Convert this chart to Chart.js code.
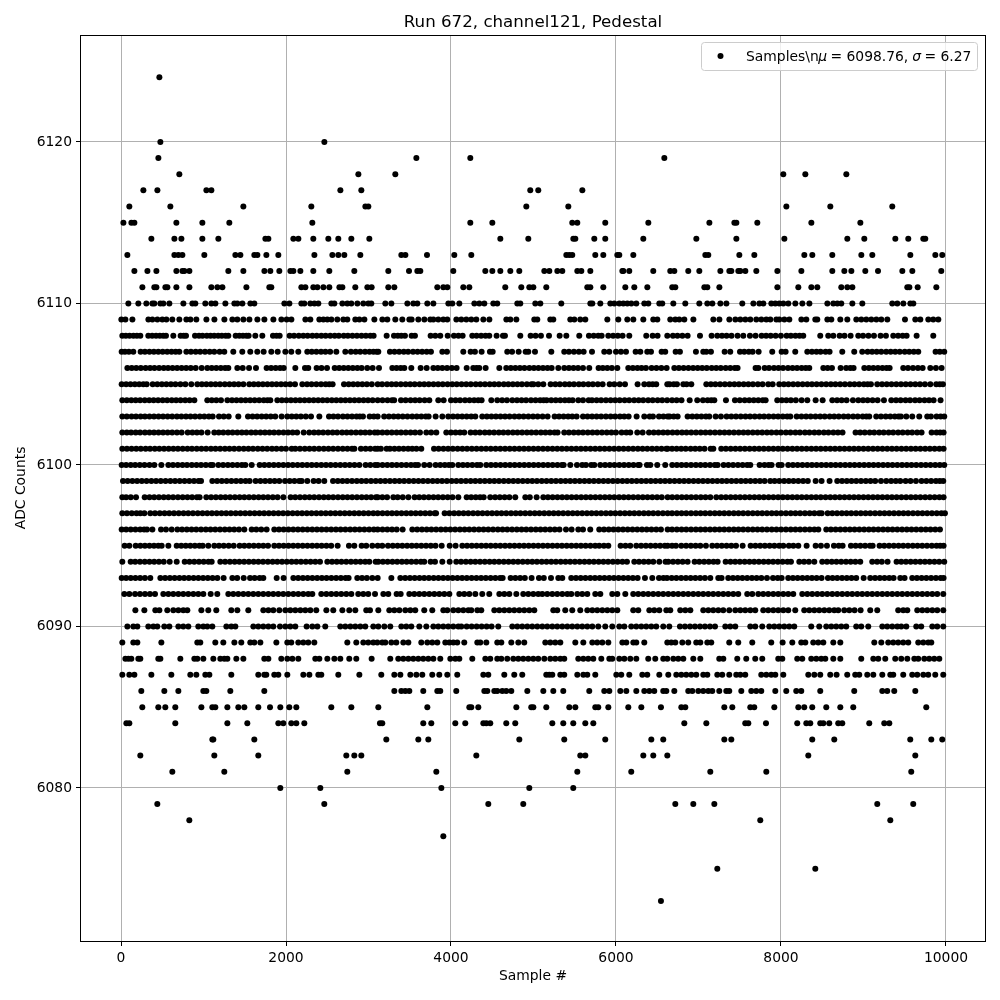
<!DOCTYPE html>
<html>
<head>
<meta charset="utf-8">
<script src="https://cdn.jsdelivr.net/npm/chart.js@4"></script>
<style>
  html, body { margin: 0; padding: 0; background: #fff; }
  canvas { display: block; }
</style>
</head>
<body>
<canvas id="pedestal" width="1000" height="1000"></canvas>
<script>
// sample numbers, one list per ADC count
const row6124 = [465];
const row6120 = [477,2465];
const row6119 = [453,3580,4234,6586];
const row6118 = [707,2877,3325,8028,8295,8792];
const row6117 = [271,441,1035,1095,2659,2913,4961,5058,5592];
const row6116 = [101,598,1483,2307,2962,2998,4913,5422,8065,8598,9349];
const row6115 = [29,126,162,671,986,1313,2319,4234,4501,5470,5531,5870,6392,7132,7435,7459,7713,8368,8962];
const row6114 = [368,647,732,986,1180,1750,1786,2089,2150,2331,2513,2634,2792,3010,4598,4937,5483,5507,5737,5870,6331,6974,7459,8041,8804,9010,9386,9543,9725,9749];
const row6113 = [77,647,695,744,1010,1386,1447,1616,1653,1762,1907,2344,2562,2634,2707,2901,3398,3447,3709,4040,4246,5398,5434,5470,5749,5846,6016,6040,6210,7083,7119,7495,7677,8283,8380,8622,8974,9107,9568,9871,9955];
const row6112 = [162,320,429,671,744,768,829,1301,1483,1738,1810,1919,2053,2089,2174,2331,2525,2828,3240,3491,3592,3628,4028,4416,4501,4598,4719,4828,5131,5192,5289,5349,5531,5580,5689,6077,6089,6161,6452,6658,6707,6876,7010,7265,7374,7398,7483,7507,7568,7701,7956,8247,8622,8768,8853,9022,9176,9471,9592,9943];
const row6111 = [259,404,429,538,562,671,829,1095,1168,1229,1520,1798,1822,2186,2235,2331,2380,2453,2525,2647,2683,2840,2986,3038,3240,3313,3834,3907,3955,4149,4222,4658,4852,4949,4998,5155,5652,5689,5846,6113,6222,6380,6682,6719,7071,7107,7253,7956,8210,8368,8440,8731,8804,8865,9531,9556,9657,9883];
const row6110 = [89,210,307,380,404,477,513,586,756,865,901,1022,1095,1144,1265,1374,1410,1471,1568,1616,1980,2041,2186,2222,2295,2344,2392,2550,2586,2683,2743,2792,2865,2937,2998,3034,3204,3277,3471,3543,3592,3713,3786,3968,4016,4101,4283,4343,4404,4513,4561,4804,4840,5022,5083,5337,5689,5713,5810,5931,5980,6040,6089,6137,6186,6246,6343,6392,6525,6561,6695,6840,7010,7107,7168,7265,7338,7531,7665,7738,7786,7883,7931,7980,8028,8089,8174,8259,8344,8562,8634,8683,8731,8865,8986,9349,9410,9483,9568,9604];
const row6109 = [4,53,138,332,380,441,501,550,622,707,792,841,913,1035,1132,1253,1350,1410,1483,1556,1653,1738,1847,1944,2008,2065,2235,2295,2404,2453,2501,2550,2622,2695,2743,2840,2889,2950,3071,3168,3228,3325,3410,3495,3523,3604,3677,3749,3786,3846,3907,3955,4065,4125,4186,4246,4307,4392,4465,4671,4719,4792,5010,5046,5204,5240,5446,5495,5567,5628,5895,6028,6137,6210,6331,6452,6501,6658,6719,6767,6828,6938,7180,7253,7374,7447,7507,7568,7628,7701,7762,7822,7871,7944,7980,8041,8101,8247,8307,8416,8440,8562,8610,8719,8804,8913,8974,9034,9095,9156,9216,9289,9503,9628,9689,9786,9846,9907];
const row6108 = [16,58,104,151,192,234,331,378,425,470,512,545,634,723,760,788,897,945,988,1040,1085,1130,1178,1222,1268,1301,1390,1435,1478,1520,1547,1628,1713,1842,1885,1923,2044,2098,2155,2210,2262,2320,2372,2428,2480,2536,2590,2640,2700,2750,2805,2860,2915,2968,3022,3062,3220,3309,3355,3398,3442,3523,3563,3753,3810,3870,3960,4036,4090,4141,4258,4310,4365,4418,4464,4553,4630,4654,4840,4965,5025,5090,5188,5317,5398,5555,5672,5730,5785,5826,5907,5965,6022,6080,6161,6367,6444,6504,6622,6690,6745,6805,6868,7018,7159,7228,7285,7340,7400,7474,7543,7624,7692,7765,7820,7875,7935,7999,8068,8120,8175,8225,8270,8476,8573,8634,8711,8770,8844,8937,8995,9060,9127,9207,9272,9361,9420,9475,9523,9644,9846];
const row6107 = [8,48,95,149,238,290,345,398,452,505,560,612,662,707,792,848,905,960,1018,1075,1130,1195,1252,1361,1470,1567,1652,1729,1822,1899,1992,2064,2149,2258,2312,2368,2425,2478,2535,2610,2719,2787,2845,2900,2958,3012,3060,3099,3119,3260,3315,3372,3428,3480,3540,3595,3650,3705,3757,3895,3951,4149,4238,4290,4371,4472,4505,4682,4740,4820,4905,4937,5018,5216,5373,5430,5490,5550,5608,5709,5858,5919,6000,6060,6121,6238,6295,6379,6424,6553,6597,6723,6775,6969,7058,7095,7151,7317,7385,7503,7555,7610,7656,7729,7894,8008,8056,8173,8319,8375,8430,8480,8540,8589,8743,8888,8985,9050,9105,9160,9215,9275,9330,9385,9440,9500,9555,9610,9664,9874,9925,9979];
const row6106 = [77,130,185,240,298,352,405,462,518,570,625,680,735,790,845,905,978,1046,1100,1155,1210,1262,1301,1410,1475,1552,1636,1765,1820,1875,1928,1972,2113,2230,2270,2371,2430,2497,2590,2645,2700,2755,2810,2865,2917,2985,3050,3127,3289,3340,3390,3434,3519,3632,3705,3786,3840,3895,3952,4010,4068,4190,4270,4310,4343,4420,4586,4670,4725,4780,4835,4890,4950,5005,5060,5115,5170,5220,5301,5373,5430,5485,5540,5600,5676,5789,5840,5895,5950,6016,6149,6205,6260,6310,6363,6432,6490,6550,6614,6707,6762,6820,6878,6935,6990,7045,7100,7160,7215,7270,7330,7385,7440,7474,7692,7725,7802,7855,7915,7970,8025,8085,8140,8195,8250,8300,8343,8513,8565,8618,8723,8790,8840,8880,9010,9065,9120,9175,9230,9280,9317,9482,9540,9600,9660,9717,9810,9878,9947];
const row6105 = [8,62,115,168,220,270,311,384,440,495,550,605,660,720,780,852,925,980,1035,1090,1145,1200,1258,1315,1370,1425,1483,1555,1610,1665,1720,1775,1830,1885,1940,1995,2050,2109,2198,2255,2310,2368,2425,2480,2525,2565,2703,2760,2815,2870,2925,2980,3040,3111,3165,3225,3280,3335,3392,3450,3505,3560,3620,3675,3730,3788,3845,3900,3958,4015,4070,4128,4185,4240,4300,4355,4412,4470,4525,4580,4640,4695,4750,4805,4860,4920,4975,5000,5058,5119,5208,5265,5320,5380,5435,5490,5550,5605,5665,5720,5780,5838,5923,5980,6045,6109,6262,6343,6400,6445,6488,6622,6650,6700,6739,6816,6856,6913,7095,7150,7205,7262,7320,7378,7435,7490,7548,7605,7660,7720,7777,7846,7899,7979,8035,8090,8148,8205,8262,8320,8375,8432,8490,8548,8605,8660,8718,8775,8835,8890,8948,9005,9050,9090,9167,9225,9282,9340,9398,9455,9512,9570,9628,9685,9745,9810,9882,9925,9963];
const row6104 = [16,70,125,178,232,288,342,395,450,505,560,615,668,722,778,832,889,1046,1100,1155,1212,1289,1345,1400,1455,1510,1565,1620,1675,1730,1775,1810,1895,1950,2005,2060,2115,2170,2225,2280,2335,2390,2445,2500,2555,2610,2665,2720,2775,2830,2885,2940,2995,3050,3111,3170,3230,3285,3311,3394,3450,3510,3565,3620,3680,3737,3846,3911,4000,4055,4110,4170,4225,4280,4330,4371,4489,4561,4620,4678,4743,4800,4855,4910,4970,5025,5080,5123,5159,5215,5270,5325,5380,5430,5474,5543,5600,5668,5709,5765,5820,5878,5935,5990,6045,6105,6160,6220,6275,6330,6390,6445,6505,6560,6620,6680,6735,6794,6893,6985,7054,7110,7155,7192,7333,7442,7500,7560,7615,7670,7725,7780,7814,7955,8010,8065,8120,8180,8250,8319,8420,8505,8622,8680,8735,8795,8872,8937,8995,9050,9110,9171,9248,9337,9395,9450,9510,9565,9625,9680,9740,9795,9850,9934];
const row6103 = [16,70,128,182,238,290,345,400,455,510,565,620,678,732,788,842,898,955,1010,1065,1111,1188,1245,1305,1422,1539,1595,1650,1705,1760,1815,1870,1947,2016,2070,2125,2180,2240,2303,2404,2521,2575,2630,2690,2745,2800,2855,2895,2933,3014,3065,3111,3190,3248,3305,3360,3415,3472,3530,3585,3640,3695,3729,3814,3895,3967,4025,4080,4135,4190,4245,4295,4379,4435,4490,4545,4600,4655,4710,4770,4825,4880,4938,4995,5050,5110,5171,5256,5310,5365,5420,5470,5523,5600,5655,5710,5765,5820,5878,5935,5990,6048,6100,6153,6250,6343,6408,6448,6521,6575,6626,6650,6700,6747,6868,6925,6980,7035,7090,7131,7208,7272,7341,7398,7455,7512,7570,7625,7682,7740,7795,7852,7910,7965,8022,8075,8113,8190,8248,8305,8360,8418,8475,8530,8590,8645,8700,8760,8815,8875,8930,8990,9035,9070,9155,9212,9270,9325,9380,9425,9454,9519,9591,9676,9773,9818,9886,9935,9979];
const row6102 = [16,70,122,178,232,290,345,400,455,510,565,620,678,735,808,865,920,975,1050,1131,1185,1240,1298,1352,1410,1465,1520,1578,1632,1690,1745,1800,1855,1912,1970,2025,2080,2135,2214,2282,2340,2395,2450,2508,2565,2620,2680,2735,2790,2848,2905,2960,3015,3075,3111,3168,3225,3282,3340,3395,3452,3510,3565,3624,3701,3760,3822,3943,4000,4055,4110,4161,4238,4295,4350,4410,4465,4522,4580,4635,4692,4750,4805,4862,4920,4975,5032,5090,5145,5200,5255,5292,5373,5430,5488,5545,5600,5658,5715,5772,5830,5888,5945,6000,6068,6125,6173,6258,6323,6400,6458,6515,6572,6626,6685,6742,6800,6855,6912,6970,7028,7085,7142,7200,7258,7315,7372,7430,7488,7545,7600,7658,7715,7772,7830,7885,7945,8000,8060,8115,8175,8230,8290,8345,8405,8460,8520,8575,8635,8690,8746,8904,8960,9015,9075,9130,9190,9245,9305,9360,9420,9475,9535,9590,9650,9704,9826,9885,9930,9971];
const row6101 = [16,72,128,185,240,298,352,410,465,522,578,635,690,748,805,860,918,975,1032,1090,1145,1202,1260,1315,1372,1430,1488,1545,1600,1658,1715,1772,1830,1885,1945,2000,2069,2113,2170,2228,2285,2342,2400,2458,2515,2572,2630,2688,2745,2800,2829,2908,2965,3022,3080,3111,3150,3220,3260,3315,3370,3425,3480,3530,3581,3640,3794,3850,3908,3965,4022,4080,4138,4195,4252,4310,4368,4425,4482,4540,4598,4655,4712,4770,4828,4885,4942,5000,5058,5115,5172,5230,5288,5345,5402,5460,5518,5575,5632,5690,5748,5805,5862,5920,5978,6035,6092,6150,6208,6265,6322,6380,6438,6495,6552,6610,6626,6680,6735,6790,6845,6905,6960,7015,7073,7147,7180,7276,7332,7390,7448,7505,7562,7620,7678,7735,7792,7850,7908,7965,8022,8080,8138,8195,8252,8310,8368,8425,8482,8540,8598,8655,8712,8770,8828,8885,8942,9000,9058,9115,9172,9230,9288,9345,9402,9460,9518,9575,9632,9690,9748,9805,9862,9920,9971];
const row6100 = [8,62,118,172,228,285,345,404,489,574,630,688,745,800,858,915,970,1028,1085,1111,1180,1238,1295,1352,1410,1465,1507,1584,1681,1738,1795,1852,1910,1968,2025,2082,2140,2198,2255,2312,2370,2428,2485,2542,2600,2658,2715,2772,2830,2889,2965,3022,3080,3111,3170,3228,3285,3342,3400,3458,3515,3565,3600,3676,3741,3814,3870,3925,3975,4016,4089,4145,4200,4258,4315,4355,4428,4485,4542,4600,4658,4715,4772,4830,4888,4945,5002,5060,5118,5175,5232,5290,5345,5365,5446,5527,5591,5636,5700,5737,5810,5868,5925,5982,6040,6098,6155,6212,6270,6286,6375,6416,6500,6597,6682,6738,6795,6852,6910,6968,7025,7082,7140,7198,7232,7305,7362,7420,7478,7535,7590,7628,7741,7800,7850,7886,7971,8008,8088,8145,8202,8260,8318,8375,8432,8490,8548,8605,8662,8720,8778,8835,8892,8950,9008,9065,9122,9180,9238,9295,9352,9410,9468,9525,9582,9640,9698,9755,9812,9870,9925,9979];
const row6099 = [24,80,138,195,252,310,368,425,482,540,598,655,712,770,828,885,940,970,1107,1165,1222,1280,1338,1395,1452,1510,1559,1632,1690,1748,1805,1862,1919,1988,2045,2102,2160,2190,2258,2335,2395,2464,2570,2628,2685,2742,2800,2858,2915,2972,3030,3088,3145,3202,3260,3318,3375,3432,3490,3548,3605,3662,3720,3778,3835,3892,3950,4008,4065,4122,4180,4238,4295,4352,4410,4468,4525,4582,4640,4698,4755,4812,4870,4928,4985,5042,5100,5158,5215,5272,5330,5388,5445,5502,5560,5618,5675,5732,5790,5848,5905,5962,6020,6078,6135,6192,6250,6308,6365,6422,6480,6538,6595,6652,6710,6768,6825,6882,6940,6998,7055,7112,7170,7228,7285,7342,7400,7458,7515,7572,7630,7688,7745,7802,7870,7923,7980,8038,8095,8152,8210,8268,8325,8420,8492,8589,8682,8740,8798,8855,8912,8970,9028,9085,9142,9212,9276,9335,9392,9446,9511,9570,9636,9704,9762,9820,9878,9925,9967];
const row6098 = [16,62,118,182,287,345,402,460,518,575,632,690,748,805,862,920,953,1034,1092,1150,1208,1265,1322,1380,1438,1495,1552,1610,1668,1725,1782,1840,1898,1968,2056,2112,2170,2228,2285,2342,2400,2458,2515,2572,2630,2688,2745,2802,2860,2918,2975,3032,3090,3111,3168,3225,3301,3353,3415,3483,3559,3615,3672,3730,3788,3845,3902,3960,4018,4089,4190,4245,4300,4352,4396,4476,4535,4592,4650,4708,4779,4901,4955,5038,5119,5175,5232,5290,5348,5405,5462,5520,5578,5635,5692,5750,5808,5865,5922,5980,6038,6095,6152,6210,6268,6325,6382,6440,6498,6555,6626,6682,6740,6798,6855,6912,6970,7028,7085,7143,7216,7275,7332,7390,7448,7505,7562,7620,7678,7735,7792,7850,7908,7965,8022,8080,8138,8195,8252,8310,8368,8425,8482,8540,8598,8655,8712,8770,8828,8885,8942,9000,9058,9115,9172,9230,9288,9345,9402,9460,9518,9575,9632,9690,9748,9805,9862,9920,9971];
const row6097 = [16,72,130,188,235,283,355,412,470,528,585,642,700,758,815,872,930,988,1045,1102,1160,1218,1275,1332,1390,1448,1505,1562,1620,1678,1735,1792,1850,1908,1965,2022,2080,2138,2195,2252,2310,2368,2425,2482,2540,2598,2655,2712,2770,2828,2885,2942,3000,3058,3111,3170,3228,3285,3342,3400,3458,3515,3572,3630,3688,3745,3802,3819,3923,3980,4038,4095,4152,4210,4268,4325,4382,4440,4498,4555,4612,4670,4728,4785,4842,4900,4958,5015,5072,5130,5188,5245,5302,5360,5418,5475,5532,5590,5648,5705,5762,5820,5878,5935,5992,6050,6108,6165,6222,6280,6338,6395,6452,6510,6568,6626,6680,6738,6795,6852,6910,6968,7025,7082,7140,7198,7255,7312,7370,7428,7485,7542,7600,7658,7715,7772,7830,7888,7945,8002,8060,8118,8175,8232,8290,8348,8405,8462,8493,8565,8622,8680,8738,8795,8852,8910,8968,9025,9082,9140,9198,9255,9312,9370,9428,9485,9542,9600,9658,9715,9772,9830,9888,9945,9987];
const row6096 = [8,62,118,175,232,280,315,380,485,545,614,683,740,798,855,912,970,1028,1085,1142,1200,1258,1315,1372,1430,1495,1584,1640,1700,1765,1858,1915,1972,2030,2088,2145,2202,2260,2318,2375,2432,2490,2548,2605,2662,2720,2778,2835,2892,2950,3008,3065,3111,3170,3228,3285,3342,3414,3531,3590,3648,3705,3762,3820,3878,3935,3992,4050,4108,4165,4222,4280,4338,4395,4452,4510,4568,4625,4682,4740,4798,4855,4912,4970,5028,5085,5142,5200,5258,5315,5394,5462,5543,5600,5688,5797,5855,5912,5970,6028,6085,6142,6200,6258,6315,6372,6430,6488,6545,6626,6680,6738,6795,6852,6910,6968,7025,7082,7140,7198,7255,7312,7370,7428,7485,7542,7600,7658,7715,7772,7830,7888,7945,8002,8060,8118,8175,8232,8290,8348,8405,8453,8549,8605,8662,8720,8778,8835,8892,8950,9008,9065,9122,9180,9238,9295,9352,9410,9468,9525,9582,9640,9698,9755,9812,9870,9927];
const row6095 = [44,101,178,235,290,345,400,452,493,574,675,730,785,840,895,950,990,1058,1131,1188,1245,1305,1366,1438,1495,1552,1610,1668,1725,1782,1858,1915,1972,2030,2088,2145,2202,2260,2318,2375,2432,2490,2548,2626,2763,2828,2917,2973,3046,3111,3167,3236,3295,3352,3410,3468,3525,3582,3640,3698,3755,3812,3887,3984,4056,4137,4195,4252,4310,4368,4425,4482,4540,4598,4655,4712,4770,4828,4885,4942,5000,5058,5115,5172,5230,5288,5345,5402,5460,5518,5575,5632,5690,5748,5797,5854,5907,6056,6115,6173,6246,6305,6362,6420,6478,6535,6592,6626,6680,6727,6792,6850,6908,6965,7022,7090,7167,7225,7282,7340,7398,7455,7535,7632,7690,7748,7805,7862,7920,7978,8028,8096,8150,8210,8311,8420,8484,8557,8642,8700,8747,8848,8905,8962,9020,9078,9111,9195,9252,9310,9368,9425,9482,9540,9598,9655,9712,9770,9828,9885,9930,9971];
const row6094 = [16,117,172,230,288,345,402,460,518,590,675,772,830,888,945,1002,1060,1099,1204,1262,1320,1378,1435,1492,1550,1608,1665,1722,1780,1838,1895,1952,2010,2068,2125,2182,2240,2298,2355,2412,2501,2558,2615,2672,2730,2788,2845,2902,2960,3010,3087,3119,3175,3232,3290,3348,3405,3462,3520,3578,3635,3676,3753,3806,3895,3984,4064,4122,4180,4238,4295,4352,4410,4468,4525,4582,4640,4698,4755,4812,4870,4928,4985,5042,5100,5158,5215,5272,5330,5388,5445,5502,5560,5618,5675,5732,5790,5848,5905,5962,6020,6078,6133,6222,6280,6338,6395,6452,6525,6601,6634,6692,6750,6808,6868,6953,7010,7068,7125,7182,7232,7329,7388,7445,7502,7560,7618,7675,7732,7790,7848,7905,7962,8020,8078,8121,8222,8280,8338,8404,8500,8558,8615,8672,8730,8788,8845,8902,8961,9106,9165,9222,9292,9401,9458,9515,9572,9630,9688,9745,9802,9860,9918,9979];
const row6093 = [8,62,118,175,232,290,355,477,535,592,650,708,765,822,880,938,995,1052,1110,1168,1244,1350,1408,1487,1564,1620,1680,1725,1887,1971,2089,2148,2205,2262,2320,2378,2435,2492,2550,2608,2665,2722,2759,2864,2922,2980,3046,3111,3277,3386,3445,3502,3560,3618,3675,3732,3790,3848,3905,3962,4020,4078,4135,4192,4250,4308,4365,4422,4480,4538,4595,4626,4723,4780,4838,4895,4977,5066,5125,5212,5301,5349,5458,5515,5572,5630,5688,5745,5802,5860,5918,5975,6032,6090,6148,6205,6262,6351,6440,6521,6575,6618,6675,6732,6790,6848,6905,6962,7020,7078,7143,7240,7280,7361,7418,7475,7532,7590,7648,7705,7762,7830,7903,7960,8008,8088,8145,8202,8260,8318,8375,8432,8492,8569,8625,8682,8740,8798,8855,8912,9002,9082,9140,9198,9255,9312,9365,9446,9498,9591,9648,9705,9762,9820,9878,9935,9971];
const row6092 = [40,101,170,230,291,351,412,513,574,634,695,755,816,877,937,998,1087,1167,1301,1361,1422,1483,1543,1604,1664,1725,1786,1846,1907,1967,2028,2089,2149,2210,2270,2319,2428,2489,2549,2610,2670,2731,2792,2876,2937,2997,3079,3180,3240,3341,3390,3495,3555,3616,3676,3737,3798,3858,3919,3980,4101,4161,4222,4295,4379,4464,4586,4646,4707,4792,4876,4937,4998,5058,5107,5167,5228,5288,5349,5410,5458,5531,5591,5652,5749,5810,5955,6016,6113,6209,6270,6331,6391,6452,6513,6573,6634,6695,6755,6816,6876,6937,6998,7058,7119,7179,7240,7301,7361,7422,7482,7591,7652,7725,7785,7846,7907,7967,8028,8088,8149,8258,8319,8379,8440,8500,8561,8622,8682,8743,8804,8864,8925,8985,9046,9106,9167,9228,9288,9349,9410,9470,9531,9592,9652,9713,9773,9834,9894,9967];
const row6091 = [174,283,416,465,561,634,695,755,804,974,1058,1155,1337,1410,1543,1725,1786,1846,1919,1992,2052,2113,2174,2234,2295,2367,2489,2573,2683,2767,2840,2973,3018,3119,3252,3313,3374,3446,3507,3567,3676,3773,3907,3955,4028,4089,4149,4210,4246,4319,4367,4525,4586,4646,4707,4767,4828,4888,4949,5010,5240,5288,5385,5470,5567,5652,5713,5773,5834,5895,5955,6016,6209,6270,6404,6464,6525,6610,6658,6779,6840,6901,7058,7119,7179,7240,7300,7373,7446,7507,7567,7628,7688,7785,7846,7907,7967,8028,8088,8173,8282,8343,8404,8464,8525,8585,8646,8694,8767,8828,8892,8965,9082,9167,9421,9482,9531,9652,9713,9773,9834,9894,9967];
const row6090 = [77,149,198,331,392,440,525,586,695,755,816,937,998,1046,1107,1277,1337,1386,1604,1664,1725,1786,1846,1927,1992,2052,2113,2250,2319,2380,2476,2658,2719,2780,2840,2901,2961,3058,3119,3192,3264,3398,3458,3519,3616,3701,3786,3846,3907,3967,4028,4089,4125,4190,4250,4311,4371,4432,4492,4573,4743,4804,4864,4925,4985,5046,5107,5167,5228,5288,5349,5410,5470,5531,5591,5652,5713,5785,5870,5955,6040,6101,6185,6246,6307,6367,6428,6488,6573,6646,6775,6836,6897,6957,7018,7078,7139,7200,7325,7385,7446,7628,7688,7773,7858,7919,7979,8040,8100,8161,8367,8464,8549,8610,8670,8731,8791,8912,8973,9058,9228,9288,9349,9410,9458,9519,9640,9700,9834,9894,9967];
const row6089 = [16,149,198,489,925,961,1143,1240,1374,1458,1567,1616,1689,1883,2016,2064,2149,2210,2270,2343,2743,2852,2937,2997,3058,3107,3167,3204,3277,3337,3422,3483,3640,3713,3773,3834,3931,3980,4028,4076,4161,4319,4355,4428,4561,4610,4731,4816,4888,5143,5204,5264,5325,5507,5604,5713,5773,5834,5907,6077,6125,6210,6246,6343,6622,6670,6719,6804,6876,6973,7022,7107,7155,7373,7482,7652,7882,8020,8137,8246,8295,8391,8452,8513,8634,8719,9131,9216,9300,9361,9421,9482,9543,9664,9725,9785,9822];
const row6088 = [53,89,125,210,234,452,477,719,889,925,998,1119,1204,1252,1289,1398,1483,1737,1786,1943,2016,2077,2149,2355,2404,2501,2586,2658,2767,2852,3038,3264,3361,3422,3483,3543,3604,3664,3725,3786,3870,3992,4052,4101,4258,4416,4476,4561,4610,4682,4755,4816,4876,4937,4998,5058,5131,5204,5264,5325,5373,5543,5604,5664,5725,5822,5919,5955,6040,6101,6173,6246,6391,6476,6573,6622,6695,6755,6816,6937,7022,7252,7301,7470,7579,7688,7773,7967,8016,8197,8258,8367,8428,8488,8537,8634,8719,8973,9119,9179,9264,9385,9458,9531,9616,9664,9737,9797,9858,9919];
const row6087 = [16,101,162,368,610,840,913,1022,1071,1337,1664,1737,1761,1858,1907,2016,2210,2283,2392,2428,2634,2889,3155,3313,3386,3507,3580,3652,3773,3858,3955,4076,4392,4452,4646,4767,4864,5155,5192,5228,5325,5373,5531,5604,5652,5749,6004,6064,6161,6319,6379,6525,6634,6731,6792,6852,6913,6973,7058,7107,7228,7288,7373,7458,7507,7567,7761,7822,7882,7931,8028,8331,8404,8476,8597,8674,8803,8900,8949,9046,9119,9228,9325,9361,9482,9591,9652,9725,9785,9870,9967];
const row6086 = [246,525,695,998,1034,1325,1737,3313,3398,3446,3495,3664,3834,3870,4064,4404,4440,4525,4561,4622,4670,4731,4925,5119,5240,5361,5676,5858,5919,6052,6125,6246,6343,6404,6464,6573,6610,6707,6876,6925,6998,7058,7119,7167,7252,7337,7373,7519,7640,7700,7761,7931,8064,8185,8246,8476,8888,9228,9288,9373,9628];
const row6085 = [258,452,537,658,974,1107,1143,1289,1422,1495,1664,1806,1931,2040,2125,2549,2792,3119,3713,4222,4246,4331,4792,4973,4998,5155,5434,5507,5749,5785,5907,6149,6307,6545,6792,6840,7313,7410,7628,7676,7919,8210,8282,8379,8549,8719,8876,9761];
const row6084 = [65,101,658,1289,1531,1907,1967,2064,2125,2222,3139,3167,3664,3761,4052,4173,4392,4428,4476,4670,4779,5228,5361,5482,5628,5725,6828,7095,7567,7604,7818,8197,8307,8355,8476,8513,8585,8694,8743,9070,9252,9313];
const row6083 = [1107,1119,1616,3216,3604,3725,4828,5373,5870,6428,6573,7313,7398,8379,8646,9567,9822,9955];
const row6082 = [234,1131,1664,2731,2828,2913,4307,5567,5628,6331,6452,6622,8331,9628];
const row6081 = [622,1252,2743,3822,5531,6185,7143,7822,9579];
const row6080 = [1931,2416,3883,4949,5482];
const row6079 = [440,2464,4452,4876,6719,6937,7192,9167,9603];
const row6078 = [828,7749,9325];
const row6077 = [3907];
const row6075 = [7228,8416];
const row6073 = [6545];

const adcValues = [6124,6120,6119,6118,6117,6116,6115,6114,6113,6112,6111,6110,6109,6108,6107,6106,6105,6104,6103,6102,6101,6100,6099,6098,6097,6096,6095,6094,6093,6092,6091,6090,6089,6088,6087,6086,6085,6084,6083,6082,6081,6080,6079,6078,6077,6075,6073];
const sampleRows = [row6124,row6120,row6119,row6118,row6117,row6116,row6115,row6114,row6113,row6112,row6111,row6110,row6109,row6108,row6107,row6106,row6105,row6104,row6103,row6102,row6101,row6100,row6099,row6098,row6097,row6096,row6095,row6094,row6093,row6092,row6091,row6090,row6089,row6088,row6087,row6086,row6085,row6084,row6083,row6082,row6081,row6080,row6079,row6078,row6077,row6075,row6073];

const xTicks = [0,2000,4000,6000,8000,10000];
const yTicks = [6080,6090,6100,6110,6120];

const FONT = '"DejaVu Sans", sans-serif';
Chart.defaults.font.family = FONT;
Chart.defaults.color = '#000';

// points are built from the lists above
const points = [];
adcValues.forEach((adc, i) => {
  sampleRows[i].forEach(s => points.push({ x: s, y: adc }));
});

// matplotlib style frame, title and legend box
const framePlugin = {
  id: 'frame',
  afterDatasetsDraw(chart) {
    const { ctx, chartArea: a } = chart;
    ctx.save();
    ctx.strokeStyle = '#000';
    ctx.lineWidth = 1;
    ctx.strokeRect(a.left - 0.5, a.top + 0.5, a.right - a.left + 1, a.bottom - a.top);
    ctx.fillStyle = '#000';
    ctx.font = '16.67px ' + FONT;
    ctx.textAlign = 'center';
    ctx.textBaseline = 'alphabetic';
    ctx.fillText('Run 672, channel121, Pedestal', (a.left + a.right) / 2, 27);

    // legend
    ctx.beginPath();
    ctx.roundRect(701.5, 42.5, 276, 28, 3);
    ctx.fillStyle = 'rgba(255,255,255,0.8)';
    ctx.fill();
    ctx.strokeStyle = '#cccccc';
    ctx.stroke();
    ctx.fillStyle = '#000';
    ctx.beginPath();
    ctx.arc(720.5, 56, 3, 0, Math.PI * 2);
    ctx.fill();
    ctx.textAlign = 'left';
    let x = 746;
    [['Samples\\n', false, -0.5], ['\u03bc', true, -1], [' = 6098.76, ', false, -0.5], ['\u03c3', true, -1], [' = 6.27', false, 0]].forEach(([t, it, adj]) => {
      ctx.font = (it ? 'italic ' : '') + '13.89px ' + FONT;
      ctx.fillText(t, x, 61);
      x += ctx.measureText(t).width + adj;
    });
    ctx.restore();
  }
};

new Chart(document.getElementById('pedestal').getContext('2d'), {
  type: 'scatter',
  data: {
    datasets: [{
      label: 'Samples',
      data: points,
      backgroundColor: '#000',
      borderWidth: 0,
      pointRadius: 3,
      pointHoverRadius: 3
    }]
  },
  options: {
    responsive: false,
    animation: false,
    layout: { padding: { top: 35, right: 15, left: 0, bottom: 0 } },
    plugins: { legend: { display: false }, title: { display: false }, tooltip: { enabled: false } },
    scales: {
      x: {
        type: 'linear',
        min: -485,
        max: 10473,
        afterBuildTicks: s => { s.ticks = xTicks.map(v => ({ value: v })); },
        afterFit: s => { s.height = 59; },
        ticks: { font: { size: 13.89 }, maxRotation: 0, padding: 4, color: '#000', callback: v => String(v) },
        grid: { color: '#b0b0b0', lineWidth: 1, tickColor: '#000', tickLength: 5 },
        border: { display: false },
        title: { display: true, text: 'Sample #', font: { size: 13.89 }, padding: { top: 0, bottom: 15 } }
      },
      y: {
        type: 'linear',
        min: 6070.52,
        max: 6126.62,
        afterBuildTicks: s => { s.ticks = yTicks.map(v => ({ value: v })); },
        afterFit: s => { s.width = 81; },
        ticks: { font: { size: 13.89 }, padding: 4, color: '#000', callback: v => String(v) },
        grid: { color: '#b0b0b0', lineWidth: 1, tickColor: '#000', tickLength: 5 },
        border: { display: false },
        title: { display: true, text: 'ADC Counts', font: { size: 13.89 }, padding: { top: 13, bottom: 0 } }
      }
    }
  },
  plugins: [framePlugin]
});
</script>
</body>
</html>
